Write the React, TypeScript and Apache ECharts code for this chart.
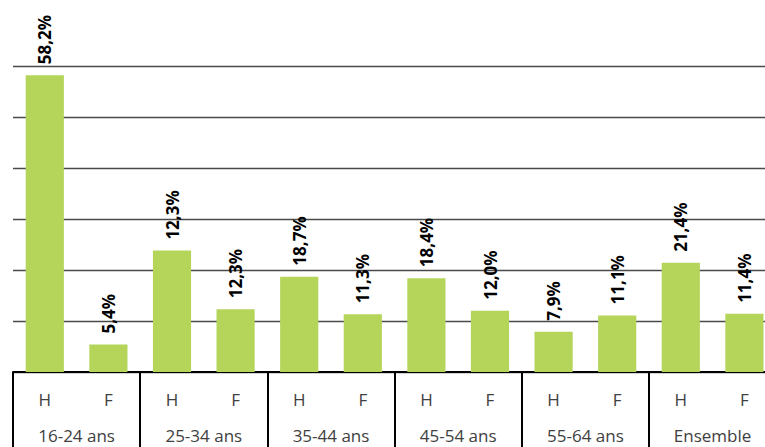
import React, { useEffect, useRef } from "react";
import * as echarts from "echarts";

const categories = ["H", "F", "H", "F", "H", "F", "H", "F", "H", "F", "H", "F"];
const groups = ["16-24 ans", "25-34 ans", "35-44 ans", "45-54 ans", "55-64 ans", "Ensemble"];
// bar heights as drawn in the picture (%)
const heights = [58.2, 5.4, 23.8, 12.3, 18.7, 11.3, 18.4, 12.0, 7.9, 11.1, 21.4, 11.4];
// data labels as printed in the picture
const labels = ["58,2%", "5,4%", "12,3%", "12,3%", "18,7%", "11,3%", "18,4%", "12,0%", "7,9%", "11,1%", "21,4%", "11,4%"];
const yMin = 0;
const yMax = 60;
const yInterval = 10;

export default function App() {
  const ref = useRef<HTMLDivElement>(null);
  useEffect(() => {
    if (!ref.current) return;
    const chart = echarts.init(ref.current, undefined, { renderer: "svg" });
    const font = "'Open Sans', 'Noto Sans', sans-serif";
    chart.setOption({
      animation: false,
      grid: { left: 13, top: 66, width: 763.2, height: 306, containLabel: false },
      xAxis: [
        {
          type: "category",
          data: categories,
          position: "bottom",
          axisLine: { show: true, lineStyle: { color: "#000", width: 2 } },
          axisTick: {
            show: true,
            interval: (index: number) => index % 2 === 0,
            alignWithLabel: false,
            length: 80,
            lineStyle: { color: "#000", width: 2 },
          },
          axisLabel: {
            interval: 0,
            margin: 19,
            color: "#404040",
            fontSize: 17,
            fontFamily: font,
          },
        },
        {
          type: "category",
          data: groups,
          position: "bottom",
          axisLine: { show: false },
          axisTick: { show: false },
          axisLabel: {
            interval: 0,
            margin: 55,
            color: "#404040",
            fontSize: 17,
            fontFamily: font,
          },
        },
      ],
      yAxis: {
        type: "value",
        min: yMin,
        max: yMax,
        interval: yInterval,
        axisLine: { show: false },
        axisTick: { show: false },
        axisLabel: { show: false },
        splitLine: { show: true, lineStyle: { color: "#4a4a4a", width: 1.3 } },
      },
      series: [
        {
          type: "bar",
          xAxisIndex: 0,
          data: heights,
          barCategoryGap: "40%",
          itemStyle: { color: "#b5d45a" },
          label: {
            show: true,
            position: "top",
            rotate: 90,
            align: "left",
            verticalAlign: "middle",
            distance: 11,
            color: "#000",
            fontWeight: "bold",
            fontSize: 17,
            fontFamily: font,
            formatter: (p: any) => labels[p.dataIndex],
          },
        },
      ],
    });
    return () => chart.dispose();
  }, []);
  return (
    <div
      style={{
        position: "fixed",
        left: 0,
        top: 0,
        width: 765,
        height: 447,
        overflow: "hidden",
        background: "#fff",
      }}
    >
      <div ref={ref} style={{ width: 790, height: 447 }} />
    </div>
  );
}
